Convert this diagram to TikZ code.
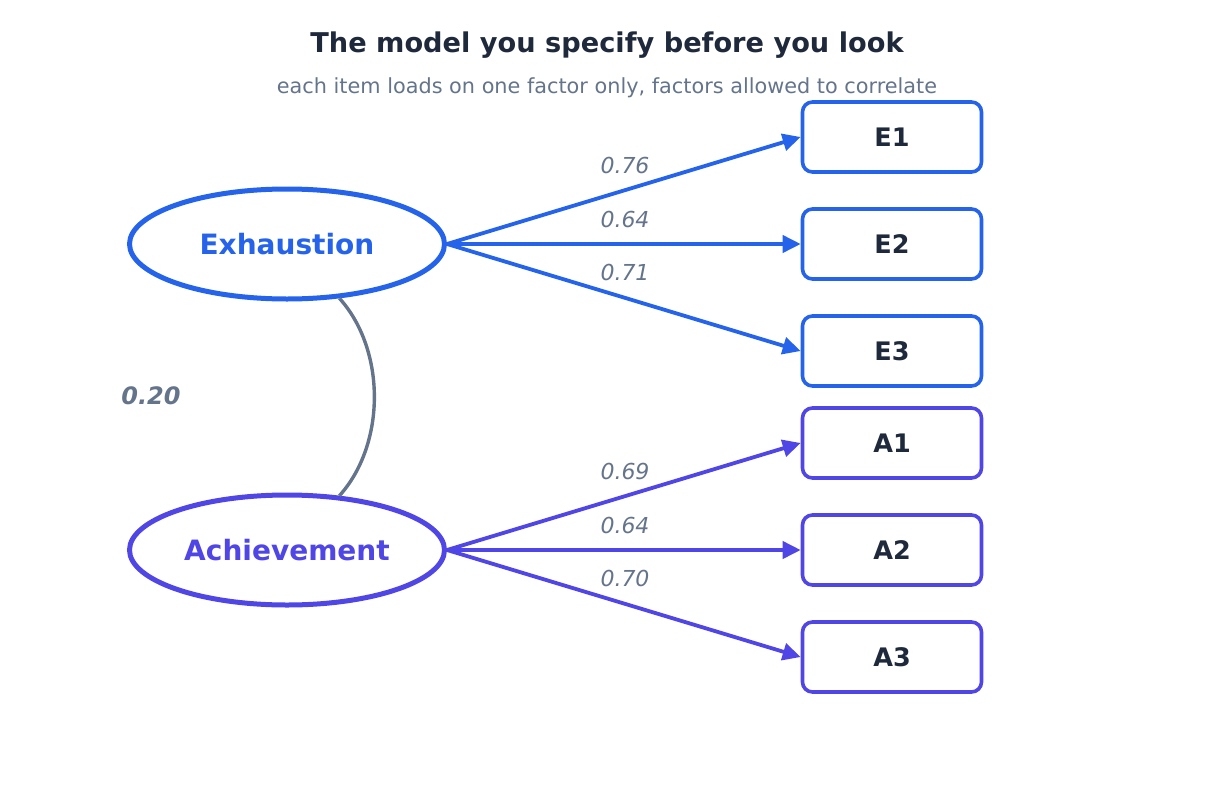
\documentclass[tikz,border=0pt]{standalone}
\usepackage{fontspec}
\setmainfont{DejaVu Sans}
\usetikzlibrary{arrows.meta,shapes.geometric}
\definecolor{cblue}{HTML}{2563EB}
\definecolor{cind}{HTML}{4F46E5}
\definecolor{cdark}{HTML}{1E293B}
\definecolor{cgray}{HTML}{64748B}
\tikzset{
  factor/.style={ellipse,draw=#1,line width=5pt,minimum width=315pt,minimum height=110pt,inner sep=0pt,text=#1,font=\fontsize{28}{32}\selectfont\bfseries},
  item/.style={rectangle,rounded corners=10pt,draw=#1,line width=3.6pt,minimum width=179pt,minimum height=70pt,inner sep=0pt,text=cdark,font=\fontsize{25.5}{30}\selectfont\bfseries},
  load/.style={draw=#1,line width=3.8pt,-{Triangle[length=18pt,width=17pt]}},
  lbl/.style={text=cgray,font=\fontsize{22}{26}\selectfont\itshape},
}
\begin{document}
\begin{tikzpicture}[x=1pt,y=-1pt]
\useasboundingbox (0,0) rectangle (1215,795);
\node[text=cdark,font=\fontsize{27.2}{32}\selectfont\bfseries] (title) at (607,45) {The model you specify before you look};
\node[text=cgray,font=\fontsize{20.8}{25}\selectfont] (sub) at (607,88) {each item loads on one factor only, factors allowed to correlate};
\node[factor=cblue] (ex) at (287,244) {Exhaustion};
\node[factor=cind] (ach) at (287,550) {Achievement};
\node[item=cblue] (e1) at (892,137) {E1};
\node[item=cblue] (e2) at (892,244) {E2};
\node[item=cblue] (e3) at (892,351) {E3};
\node[item=cind] (a1) at (892,443) {A1};
\node[item=cind] (a2) at (892,550) {A2};
\node[item=cind] (a3) at (892,657) {A3};
\draw[load=cblue] (ex.east) -- (e1.west);
\draw[load=cblue] (ex.east) -- (e2.west);
\draw[load=cblue] (ex.east) -- (e3.west);
\draw[load=cind] (ach.east) -- (a1.west);
\draw[load=cind] (ach.east) -- (a2.west);
\draw[load=cind] (ach.east) -- (a3.west);
\node[lbl] (l1) at (625,165) {0.76};
\node[lbl] (l2) at (625,219) {0.64};
\node[lbl] (l3) at (625,272) {0.71};
\node[lbl] (l4) at (625,471) {0.69};
\node[lbl] (l5) at (625,525) {0.64};
\node[lbl] (l6) at (625,578) {0.70};
\draw[cgray,line width=3.4pt] (ex.-46.6) .. controls (386,350) and (386,444) .. (ach.46.6);
\node[text=cgray,font=\fontsize{24}{28}\selectfont\bfseries\itshape] (corr) at (151,396) {0.20};
\end{tikzpicture}
\end{document}
